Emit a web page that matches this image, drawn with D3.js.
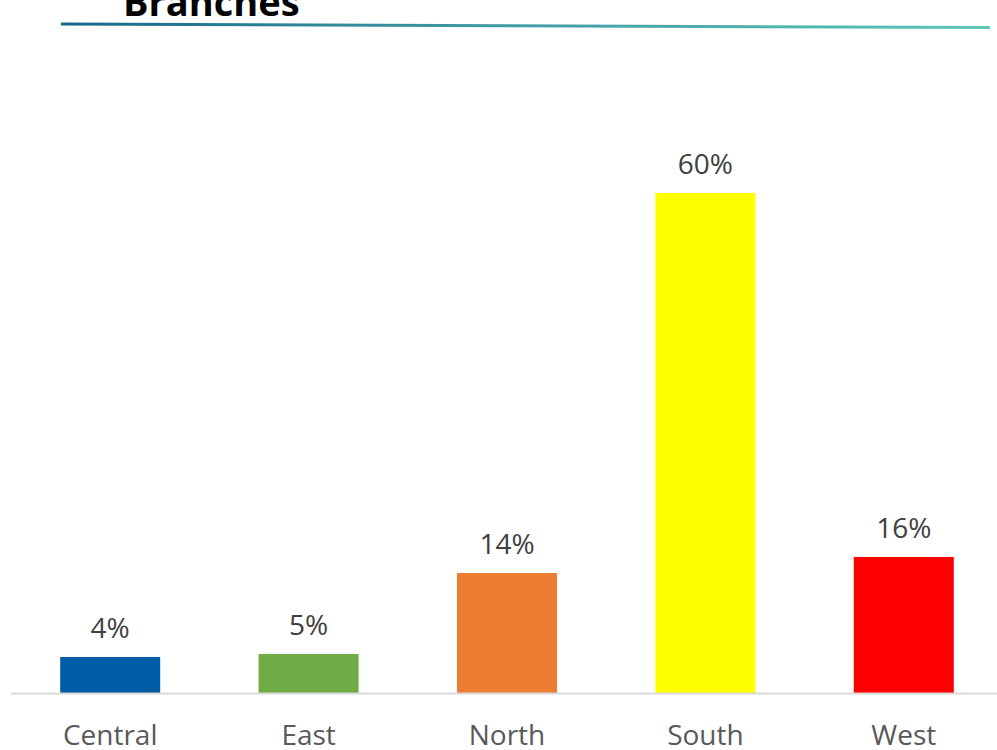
<!DOCTYPE html>
<html>
<head>
<meta charset="utf-8">
<script src="https://cdn.jsdelivr.net/npm/d3@7"></script>
<style>
  html, body { margin: 0; padding: 0; background: #fff; }
  svg { display: block; }
</style>
</head>
<body>
<svg id="chart" width="997" height="750"></svg>
<script>
"use strict";

// donnees (en %)
var branches = ["Central", "East", "North", "South", "West"]
var shares = [4.33, 4.69, 14.44, 60.17, 16.37]
var barColors = ["#005ca4", "#70ad47", "#ed7d31", "#ffff00", "#ff0000"]
var titleText = "Branches"

/**
 * Cree les echelles du graphique
 *
 * @return {[Band, Linear]}  echelle x (branches) et y (parts)
 */
function createScales() {
    var x = d3.scaleBand()
        .domain(branches)
        .range([11, 1003])
        .paddingInner(0.496)
        .paddingOuter(0.248)

    var y = d3.scaleLinear()
        .domain([0, 80])
        .range([693, 28.2])

    return [x, y]
}

/**
 * Dessine le titre (coupe en haut, comme sur la maquette) et le trait degrade
 */
function drawTitle(svg) {
    var grad = svg.append("defs").append("linearGradient")
        .attr("id", "titleLine")
        .attr("x1", "0%").attr("x2", "100%")
    grad.append("stop").attr("offset", "0%").attr("stop-color", "#16688a")
    grad.append("stop").attr("offset", "45%").attr("stop-color", "#3f9aa3")
    grad.append("stop").attr("offset", "100%").attr("stop-color", "#5cc6b8")

    svg.append("text")
        .attr("x", 123)
        .attr("y", 16)
        .attr("font-family", "Open Sans")
        .attr("font-weight", "bold")
        .attr("font-size", 38)
        .attr("fill", "#000")
        .text(titleText)

    svg.append("path")
        .attr("d", "M61,22.5 L990,26 L990,29 L61,25.5 Z")
        .attr("fill", "url(#titleLine)")
}

/**
 * Dessine les barres et leurs etiquettes
 */
function drawBars(svg, x, y) {
    var data = branches.map((b, i) => ({ name: b, value: shares[i], color: barColors[i] }))

    svg.append("g")
      .selectAll("rect")
      .data(data)
      .enter()
      .append("rect")
        .attr("x", d => x(d.name))
        .attr("y", d => y(d.value))
        .attr("width", x.bandwidth())
        .attr("height", d => y(0) - y(d.value))
        .attr("fill", d => d.color)

    var fmt = d3.format(".0%")
    svg.append("g")
      .selectAll("text")
      .data(data)
      .enter()
      .append("text")
        .attr("x", d => x(d.name) + x.bandwidth() / 2)
        .attr("y", d => y(d.value) - 19)
        .attr("text-anchor", "middle")
        .attr("font-family", "Open Sans")
        .attr("font-size", 28)
        .attr("fill", "#404040")
        .text(d => fmt(d.value / 100))
}

/**
 * Axe des categories : un simple trait gris et les noms des branches
 */
function drawAxis(svg, x, y) {
    var axis = d3.axisBottom(x).tickSize(0).tickPadding(0)
    var g = svg.append("g")
        .attr("transform", "translate(0," + y(0) + ")")
        .call(axis)

    g.select(".domain")
        .attr("d", "M11,0.5H997")
        .attr("stroke", "#d9d9d9")
        .attr("stroke-width", 2)

    g.selectAll(".tick text")
        .attr("dy", null)
        .attr("y", 52)
        .attr("font-family", "Open Sans")
        .attr("font-size", 28)
        .attr("fill", "#595959")
}

var svg = d3.select("#chart")
var [x, y] = createScales()
drawTitle(svg)
drawBars(svg, x, y)
drawAxis(svg, x, y)
</script>
</body>
</html>
